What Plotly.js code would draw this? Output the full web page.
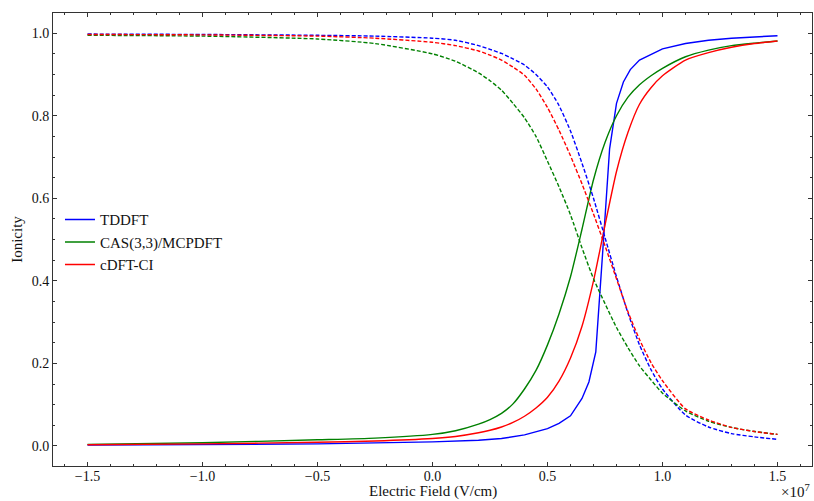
<!DOCTYPE html>
<html>
<head>
<meta charset="utf-8">
<script src="https://cdn.plot.ly/plotly-3.0.1.min.js"></script>
<style>html,body{margin:0;padding:0;background:#fff;}#chart{width:814px;height:501px;}</style>
</head>
<body>
<div id="chart"></div>
<script>
// Electric field in units of 1e7 V/cm
const fieldGrid = [-1.5,-1.0,-0.5,-0.25,0,0.1,0.2,0.25,0.3,0.35,0.4,0.45,0.5,0.55,0.6,0.65,0.7,0.75,0.8,0.85,0.9,0.95,1.0,1.1,1.2,1.3,1.4,1.5];
const fieldTDDFT = [-1.5,-1.0,-0.5,0,0.2,0.3,0.4,0.5,0.55,0.6,0.65,0.68,0.71,0.74,0.77,0.8,0.83,0.86,0.9,1.0,1.1,1.2,1.3,1.4,1.5];

// Solid curves
const tddftSolid = [0.002,0.003,0.005,0.010,0.014,0.018,0.027,0.042,0.055,0.073,0.115,0.155,0.228,0.47,0.72,0.83,0.882,0.912,0.935,0.962,0.975,0.983,0.988,0.991,0.994];
const casSolid   = [0.004,0.008,0.015,0.019,0.028,0.037,0.053,0.064,0.079,0.102,0.138,0.183,0.245,0.32,0.41,0.525,0.645,0.735,0.80,0.845,0.875,0.897,0.915,0.943,0.959,0.97,0.976,0.981];
const cdftSolid  = [0.003,0.005,0.009,0.012,0.018,0.023,0.032,0.038,0.046,0.057,0.072,0.092,0.118,0.157,0.213,0.29,0.40,0.535,0.665,0.76,0.828,0.868,0.897,0.935,0.953,0.966,0.975,0.981];

// Dashed curves
const tddftDash = [0.998,0.997,0.995,0.993,0.988,0.983,0.97,0.961,0.951,0.938,0.923,0.90,0.87,0.825,0.763,0.685,0.60,0.505,0.41,0.322,0.245,0.185,0.138,0.075,0.046,0.03,0.022,0.016];
const casDash   = [0.995,0.993,0.986,0.975,0.95,0.932,0.904,0.885,0.862,0.83,0.795,0.75,0.69,0.628,0.56,0.48,0.405,0.345,0.287,0.238,0.194,0.16,0.128,0.085,0.06,0.045,0.035,0.028];
const cdftDash  = [0.997,0.996,0.993,0.988,0.978,0.97,0.957,0.947,0.935,0.918,0.898,0.865,0.82,0.765,0.703,0.635,0.562,0.485,0.405,0.325,0.258,0.202,0.158,0.09,0.063,0.045,0.035,0.028];

const seriesNames = ["TDDFT","CAS(3,3)/MCPDFT","cDFT-CI"];
const seriesColors = ["#0000ff","#008000","#ff0000"];
const xTitle = "Electric Field (V/cm)";
const yTitle = "Ionicity";

const FONT = "Liberation Serif, Times New Roman, serif";
const FS = 15;

const traces = [
  {x: fieldTDDFT, y: tddftSolid, name: seriesNames[0], mode: "lines", line: {color: seriesColors[0], width: 1.4}},
  {x: fieldGrid, y: casSolid, name: seriesNames[1], mode: "lines", line: {color: seriesColors[1], width: 1.4, shape: "spline", smoothing: 0.6}},
  {x: fieldGrid, y: cdftSolid, name: seriesNames[2], mode: "lines", line: {color: seriesColors[2], width: 1.4, shape: "spline", smoothing: 0.6}},
  {x: fieldGrid, y: tddftDash, name: seriesNames[0], showlegend: false, mode: "lines", line: {color: seriesColors[0], width: 1.4, dash: "4px,2px", shape: "spline", smoothing: 0.6}},
  {x: fieldGrid, y: casDash, name: seriesNames[1], showlegend: false, mode: "lines", line: {color: seriesColors[1], width: 1.4, dash: "4px,2px", shape: "spline", smoothing: 0.6}},
  {x: fieldGrid, y: cdftDash, name: seriesNames[2], showlegend: false, mode: "lines", line: {color: seriesColors[2], width: 1.4, dash: "4px,2px", shape: "spline", smoothing: 0.6}}
];

const axisCommon = {
  showgrid: false, zeroline: false, showline: true, linecolor: "#333", linewidth: 1,
  mirror: "allticks", ticks: "inside", ticklen: 4, tickwidth: 1, tickcolor: "#333",
  tickfont: {family: FONT, size: 14, color: "#111"}
};

const layout = {
  width: 814, height: 501,
  margin: {l: 53, r: 2, t: 13, b: 35},
  paper_bgcolor: "#fff", plot_bgcolor: "#fff",
  font: {family: FONT, size: FS, color: "#111"},
  xaxis: Object.assign({}, axisCommon, {
    range: [-1.65, 1.65], tickvals: [-1.5,-1.0,-0.5,0,0.5,1.0,1.5],
    ticktext: ["\u22121.5","\u22121.0","\u22120.5","0.0","0.5","1.0","1.5"],
    ticklabelstandoff: -3,
    minor: {dtick: 0.1, tick0: 0, ticks: "inside", ticklen: 2, tickcolor: "#333", showgrid: false}
  }),
  yaxis: Object.assign({}, axisCommon, {
    range: [-0.0485, 1.049], tickvals: [0,0.2,0.4,0.6,0.8,1.0],
    ticktext: ["0.0","0.2","0.4","0.6","0.8","1.0"],
    minor: {dtick: 0.05, tick0: 0, ticks: "inside", ticklen: 2, tickcolor: "#333", showgrid: false},
    title: {text: yTitle, font: {family: FONT, size: FS}, standoff: 5}
  }),
  legend: {x: 0.0092, y: 0.58, xanchor: "left", yanchor: "top", bgcolor: "rgba(0,0,0,0)",
           font: {family: FONT, size: FS}, tracegroupgap: 0, itemwidth: 30},
  showlegend: true,
  annotations: [
    {xref: "paper", yref: "paper", x: 0.5, y: -0.0773, xanchor: "center", yanchor: "bottom",
     text: xTitle, showarrow: false, borderpad: 0, font: {family: FONT, size: FS, color: "#111"}},
    {xref: "paper", yref: "paper", x: 1.0, y: -0.03, xanchor: "right", yanchor: "top",
     text: "\u00d710<sup>7</sup>", showarrow: false, font: {family: FONT, size: FS, color: "#111"}}
  ]
};

Plotly.newPlot("chart", traces, layout, {displayModeBar: false, staticPlot: true});
</script>
</body>
</html>
